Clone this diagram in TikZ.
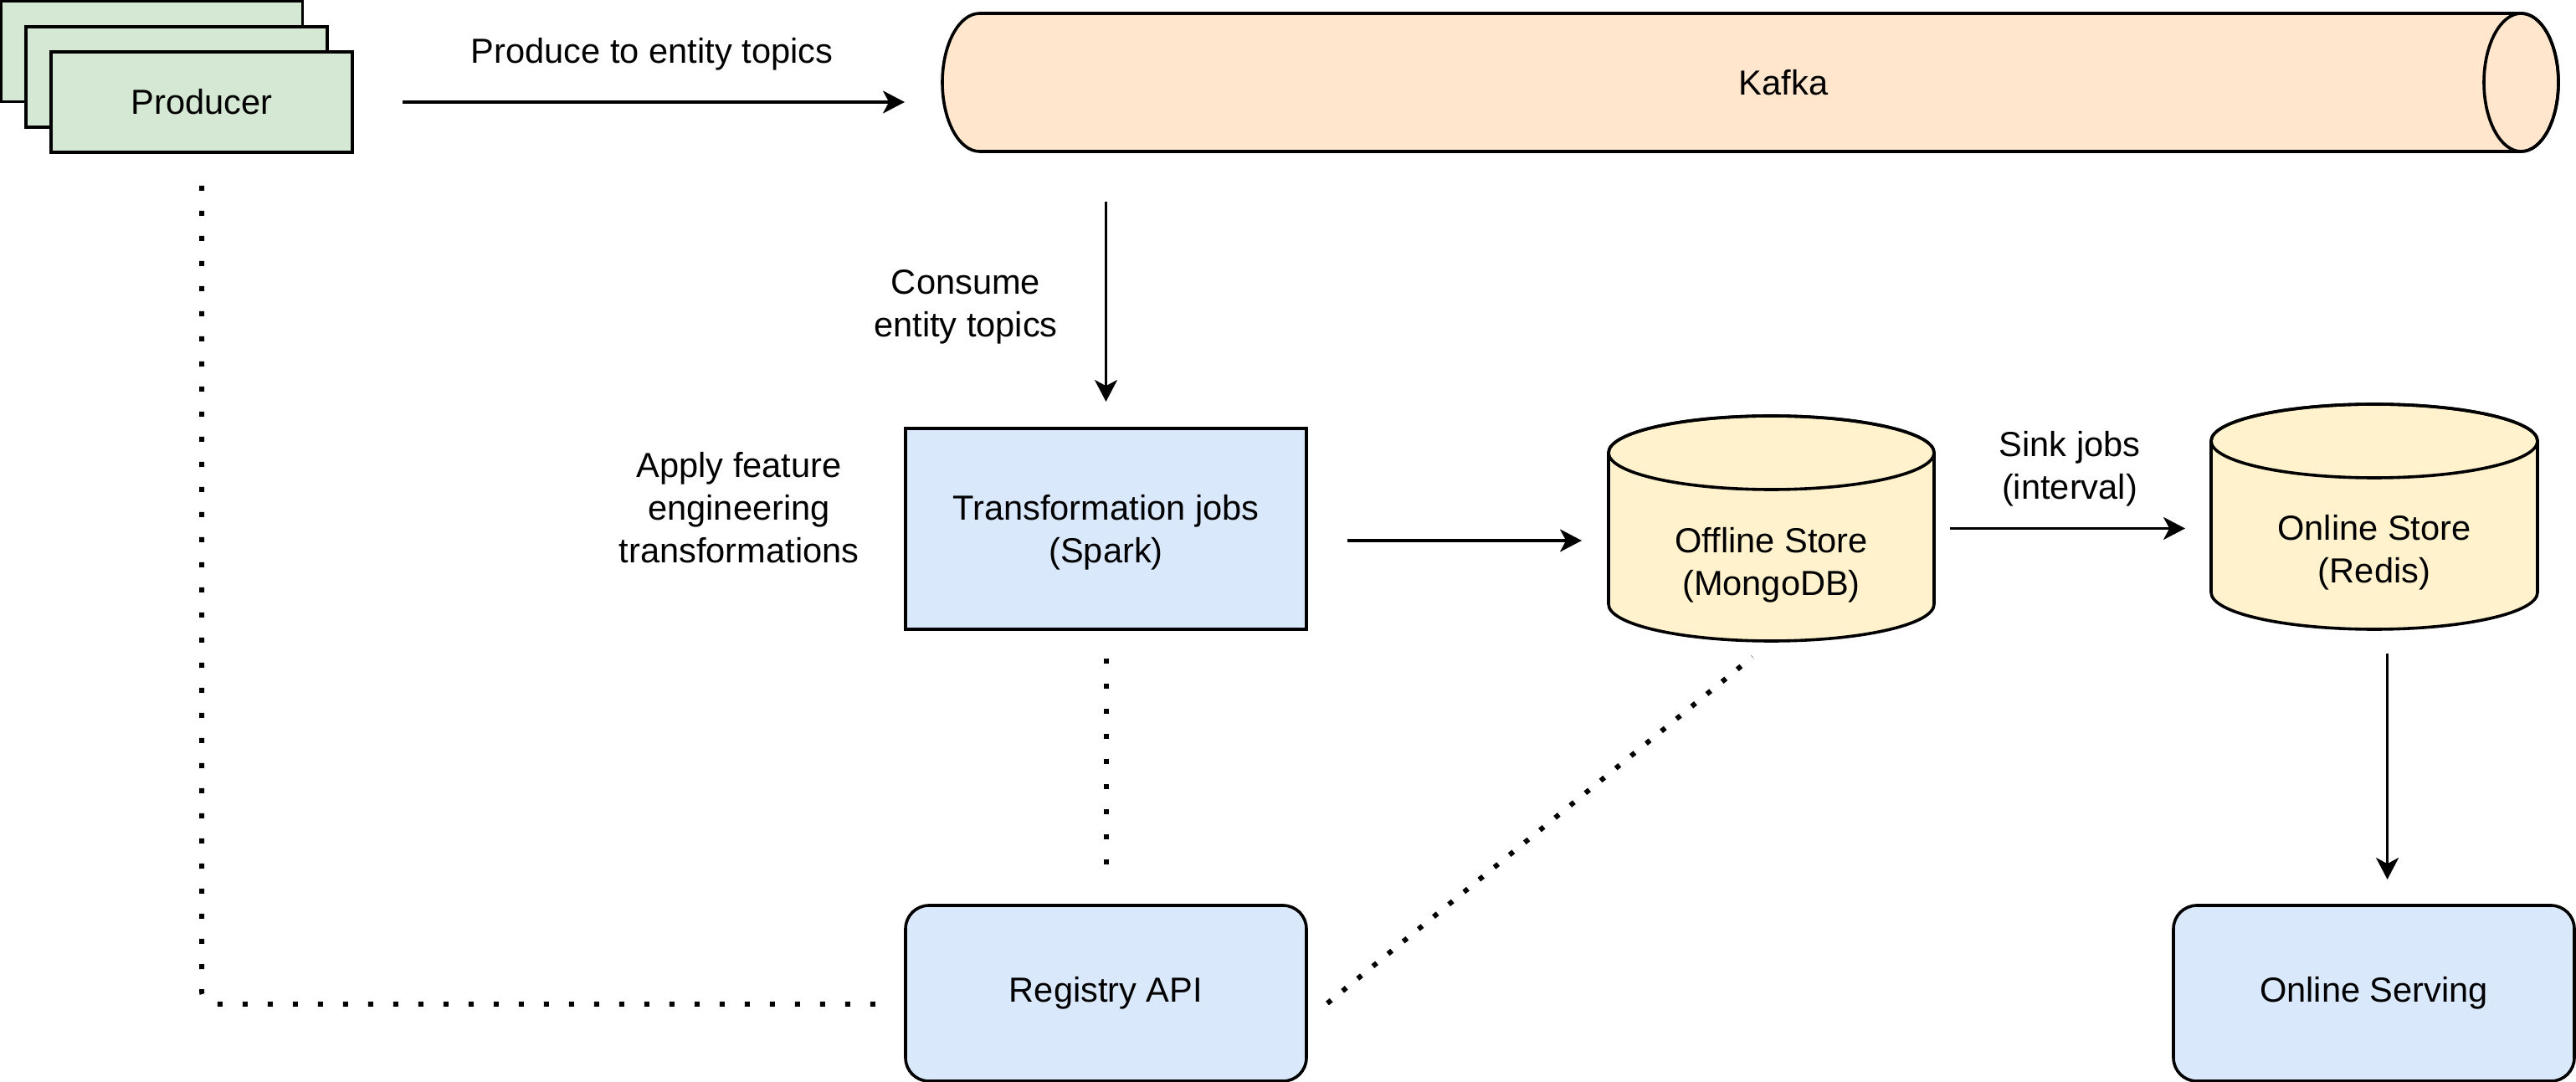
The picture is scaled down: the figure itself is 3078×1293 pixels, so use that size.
\documentclass[tikz,border=0pt]{standalone}
\usepackage{fontspec}
\setmainfont{Liberation Sans}
\usetikzlibrary{arrows.meta}
\definecolor{prodgreen}{HTML}{D5E8D4}
\definecolor{kafkaor}{HTML}{FFE6CC}
\definecolor{storey}{HTML}{FFF2CC}
\definecolor{boxblue}{HTML}{DAE8FC}
\tikzset{
  txt/.style={font=\fontsize{10.4pt}{12.75pt}\selectfont, align=center, inner sep=0pt},
  shp/.style={line width=0.9pt},
  prodbox/.style={shp, draw, fill=prodgreen, inner sep=0pt, outer sep=0pt, minimum width=90pt, minimum height=30pt, txt},
  bluebox/.style={shp, draw, fill=boxblue, inner sep=0pt, outer sep=0pt, minimum width=119.75pt, minimum height=52.5pt, txt},
  region/.style={inner sep=0pt, outer sep=0pt},
  conn/.style={line width=0.8pt, -{Stealth[length=6.5pt, width=6.75pt, inset=1.8pt]}},
  dotl/.style={line width=1.5pt, line cap=butt, dash pattern=on 1.5pt off 6pt},
  dotd/.style={line width=1.5pt, line cap=butt, dash pattern=on 1.5pt off 4.35pt},
}
\begin{document}
\begin{tikzpicture}[x=0.25pt, y=-0.25pt]
\useasboundingbox (0,0) rectangle (3078,1293);

% Producer stack
\node[prodbox] (prodA) at (181.5,61.5) {};
\node[prodbox] (prodB) at (211,92) {};
\node[prodbox] (prod) at (241,122) {Producer};

% Kafka (horizontal cylinder)
\filldraw[shp, fill=kafkaor] (1170.5,16) -- (3012.5,16)
  arc[start angle=-90, end angle=90, x radius=44.5, y radius=82.5]
  -- (1170.5,181)
  arc[start angle=90, end angle=270, x radius=44.5, y radius=82.5] -- cycle;
\draw[shp] (3012.5,98.5) ellipse[x radius=44.5, y radius=82.5];
\node[region, minimum width=482.75pt, minimum height=41.25pt] (kafka) at (2091.5,98.5) {};
\node[txt] (kafkalbl) at (2131,99) {Kafka};

% Transformation jobs
\node[bluebox, minimum height=60pt] (trans) at (1321.5,632) {};
\node[txt] (translbl) at (1321.5,636) {Transformation jobs\\(Spark)};

% Offline store cylinder
\filldraw[shp, fill=storey] (1922,541) -- (1922,722)
  arc[start angle=180, end angle=0, x radius=194.5, y radius=44]
  -- (2311,541)
  arc[start angle=0, end angle=-180, x radius=194.5, y radius=44] -- cycle;
\draw[shp] (2116.5,541) ellipse[x radius=194.5, y radius=44];
\node[region, minimum width=97.25pt, minimum height=67.25pt] (off) at (2116.5,631.5) {};
\node[txt] (offlbl) at (2116.5,675) {Offline Store\\(MongoDB)};

% Online store cylinder
\filldraw[shp, fill=storey] (2642,527) -- (2642,708)
  arc[start angle=180, end angle=0, x radius=195, y radius=44]
  -- (3032,527)
  arc[start angle=0, end angle=-180, x radius=195, y radius=44] -- cycle;
\draw[shp] (2837,527) ellipse[x radius=195, y radius=44];
\node[region, minimum width=97.5pt, minimum height=67.25pt] (on) at (2837,617.5) {};
\node[txt] (onlbl) at (2837,660) {Online Store\\(Redis)};

% Registry API and Online Serving
\node[bluebox, rounded corners=7pt] (reg) at (1321.5,1187) {Registry API};
\node[bluebox, rounded corners=7pt] (serv) at (2836.5,1187) {Online Serving};

% Edge labels
\node[txt] (lblprod) at (779,65) {Produce to entity topics};
\node[txt] (lblcons) at (1154,367) {Consume\\entity topics};
\node[txt] (lblapply) at (883,607) {Apply feature\\engineering\\transformations};
\node[txt] (lblsink) at (2473,560) {Sink jobs\\(interval)};

% Arrows
\draw[conn, shorten <=15pt, shorten >=11.25pt] (prod.east) -- (prod.east -| kafka.west);
\draw[conn, shorten <=15pt, shorten >=8pt] (trans.north |- kafka.south) -- (trans.north);
\draw[conn, shorten <=12.25pt, shorten >=8pt] ([yshift=-3.5pt]trans.east) -- ([yshift=-3.5pt]trans.east -| off.west);
\draw[conn, shorten <=4.75pt, shorten >=7.75pt] (off.east) -- (off.east -| on.west);
\draw[conn, shorten <=7.25pt, shorten >=7.75pt] ([xshift=3.9pt]on.south) -- ([xshift=3.9pt]on.south |- serv.north);

% Dotted links
\draw[dotl, rounded corners=4pt, shorten <=10pt, shorten >=7pt] (prod.south) |- ([yshift=-3.25pt]reg.west);
\draw[dotl, shorten <=8.75pt, shorten >=12pt] (trans.south) -- (reg.north);
\draw[dotd] ([shift={(25,12)}]reg.east) -- ([shift={(-22.5,19)}]off.south);
\end{tikzpicture}
\end{document}
